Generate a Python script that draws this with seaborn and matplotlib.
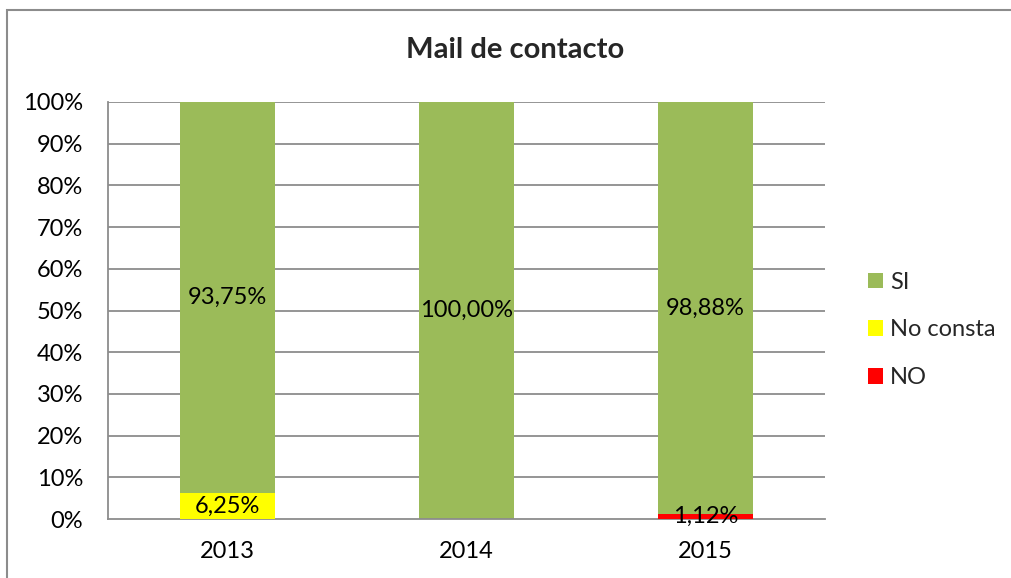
import matplotlib
matplotlib.use("Agg")
import matplotlib.pyplot as plt
import seaborn as sns
import pandas as pd
import numpy as np
from matplotlib.patches import Rectangle, Patch

years = ["2013", "2014", "2015"]
si = [93.75, 100.00, 98.88]
no_consta = [6.25, 0.0, 0.0]
no = [0.0, 0.0, 1.12]
series_names = ["SI", "No consta", "NO"]
colors = {"SI": "#9BBB59", "No consta": "#FFFF00", "NO": "#FF0000"}
title = "Mail de contacto"

sns.set_style("white")
plt.rcParams["font.family"] = ["Lato", "DejaVu Sans"]

W, H = 1011, 578
FS = 17
fig = plt.figure(figsize=(W / 100, H / 100), dpi=100)
ax = fig.add_axes([108 / W, (H - 519) / H, (825 - 108) / W, (519 - 102) / H])

df = pd.DataFrame({"year": years, "SI": si, "No consta": no_consta, "NO": no})
# cumulative tops, stacked NO (bottom), No consta, SI (top)
df["top_NO"] = df["NO"]
df["top_NC"] = df["NO"] + df["No consta"]
df["top_SI"] = df["top_NC"] + df["SI"]

grid_c = "#8C8C8C"
for yv in np.arange(10, 101, 10):
    ax.axhline(yv, color=grid_c, lw=1.3, zorder=0)

sns.barplot(data=df, x="year", y="top_SI", color=colors["SI"], width=0.4,
            saturation=1, ax=ax, zorder=2, edgecolor="none")
sns.barplot(data=df, x="year", y="top_NC", color=colors["No consta"], width=0.4,
            saturation=1, ax=ax, zorder=3, edgecolor="none")
sns.barplot(data=df, x="year", y="top_NO", color=colors["NO"], width=0.4,
            saturation=1, ax=ax, zorder=4, edgecolor="none")

def fmt(v):
    return f"{v:.2f}".replace(".", ",") + "%"

for i in range(len(years)):
    base = 0.0
    for name, vals in [("NO", no), ("No consta", no_consta), ("SI", si)]:
        v = vals[i]
        if v > 0:
            ax.text(i, base + v / 2, fmt(v), ha="center", va="center",
                    fontsize=FS, color="black", zorder=6)
        base += v

ax.set_xlim(-0.5, 2.5)
ax.set_ylim(0, 100)
ax.set_yticks(np.arange(0, 101, 10))
ax.set_yticklabels([f"{t}%" for t in range(0, 101, 10)])
ax.set_xlabel("")
ax.set_ylabel("")
ax.tick_params(axis="both", length=0, labelsize=FS, colors="black")
ax.tick_params(axis="y", pad=18)
ax.tick_params(axis="x", pad=16)
for s in ["top", "right"]:
    ax.spines[s].set_visible(False)
for s in ["left", "bottom"]:
    ax.spines[s].set_color(grid_c)
    ax.spines[s].set_linewidth(1.3)
ax.set_facecolor("white")

fig.text(515 / W, 1 - 50 / H, title, ha="center", va="center",
         fontsize=21, fontweight="bold")

handles = [Patch(facecolor=colors[n], edgecolor="none") for n in series_names]
fig.legend(handles, series_names, loc="center left",
           bbox_to_anchor=(868 / W, 1 - 330 / H), frameon=False,
           fontsize=FS, handlelength=0.64, handleheight=0.64,
           handletextpad=0.3, labelspacing=1.13, borderpad=0,
           borderaxespad=0)

fig.patches.append(Rectangle((7 / W, -0.1), 1.2, 1 - 10 / H + 0.1,
                             transform=fig.transFigure, fill=False,
                             edgecolor="#8C8C8C", lw=1.5, zorder=0))

fig.savefig("out.png", dpi=100, facecolor="white")
